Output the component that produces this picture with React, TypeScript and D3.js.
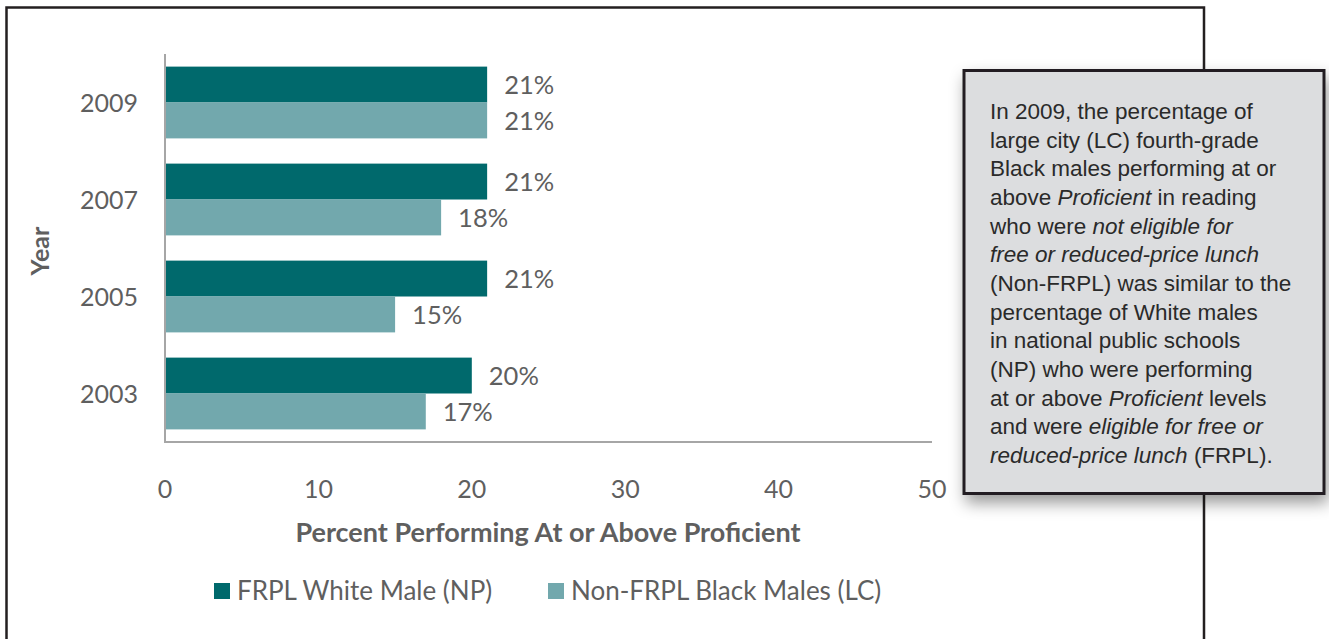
import * as d3 from 'd3';
import React, { useEffect, useRef } from 'react';

// Data

const years = ['2009', '2007', '2005', '2003'];
const seriesNames = ['FRPL White Male (NP)', 'Non-FRPL Black Males (LC)'];
const frplWhiteMale = [21, 21, 21, 20];
const nonFrplBlackMales = [21, 18, 15, 17];
const xTicks = [0, 10, 20, 30, 40, 50];
const colors = ['#00696c', '#72a8ad'];

// note box text, [text, italic]
const noteLines: [string, boolean][][] = [
	[['In 2009, the percentage of', false]],
	[['large city (LC) fourth-grade', false]],
	[['Black males performing at or', false]],
	[['above ', false], ['Proficient', true], [' in reading', false]],
	[['who were ', false], ['not eligible for', true]],
	[['free or reduced-price lunch', true]],
	[['(Non-FRPL) was similar to the', false]],
	[['percentage of White males', false]],
	[['in national public schools', false]],
	[['(NP) who were performing', false]],
	[['at or above ', false], ['Proficient', true], [' levels', false]],
	[['and were ', false], ['eligible for free or', true]],
	[['reduced-price lunch', true], [' (FRPL).', false]],
];

function App() {
	const chart = useRef<SVGSVGElement>(null);

	const drawChart = () => {
		const svg = d3.select(chart.current);
		svg.selectAll('*').remove();

		const textColor = '#5f5f5f';
		const font = 'Lato, sans-serif';

		// outer frame

		svg
			.append('path')
			.attr('d', 'M6.5,640 L6.5,7.5 L1204,7.5 L1204,640')
			.attr('fill', 'none')
			.attr('stroke', '#231f20')
			.attr('stroke-width', 2.5);

		// Scales

		const xscale = d3.scaleLinear().domain([0, 50]).range([165, 932]);

		const yscale = d3
			.scaleBand()
			.domain(years)
			.range([54, 442])
			.paddingInner(0.26)
			.paddingOuter(0.13);

		const inner = d3
			.scaleBand()
			.domain(seriesNames)
			.range([0, yscale.bandwidth()]);

		const rows = years.map((year, i) => ({
			year,
			values: [frplWhiteMale[i], nonFrplBlackMales[i]],
		}));

		// Bars

		const groups = svg
			.append('g')
			.selectAll('g')
			.data(rows)
			.enter()
			.append('g')
			.attr('transform', (d) => `translate(0, ${yscale(d.year)})`);

		const cells = groups
			.selectAll('g')
			.data((d) => d.values.map((v, k) => ({ v, name: seriesNames[k], k })))
			.enter()
			.append('g');

		cells
			.append('rect')
			.attr('x', xscale(0))
			.attr('y', (d) => inner(d.name))
			.attr('width', (d) => xscale(d.v) - xscale(0))
			.attr('height', inner.bandwidth())
			.attr('fill', (d) => colors[d.k]);

		cells
			.append('text')
			.attr('x', (d) => xscale(d.v) + 17)
			.attr('y', (d) => inner(d.name) + inner.bandwidth() / 2)
			.attr('dy', '0.36em')
			.attr('font-family', font)
			.attr('font-size', 25.5)
			.attr('fill', textColor)
			.text((d) => `${d.v}%`);

		// Axis

		svg
			.append('line')
			.attr('x1', xscale(0))
			.attr('x2', xscale(0))
			.attr('y1', 54)
			.attr('y2', 443)
			.attr('stroke', '#a6a6a6')
			.attr('stroke-width', 2);

		svg
			.append('line')
			.attr('x1', xscale(0) - 1)
			.attr('x2', xscale(50))
			.attr('y1', 442)
			.attr('y2', 442)
			.attr('stroke', '#a6a6a6')
			.attr('stroke-width', 2);

		svg
			.append('g')
			.selectAll('text')
			.data(xTicks)
			.enter()
			.append('text')
			.attr('x', (d) => xscale(d))
			.attr('y', 489)
			.attr('dy', '0.36em')
			.attr('text-anchor', 'middle')
			.attr('font-family', font)
			.attr('font-size', 25)
			.attr('fill', textColor)
			.text((d) => d);

		svg
			.append('g')
			.selectAll('text')
			.data(years)
			.enter()
			.append('text')
			.attr('x', 138)
			.attr('y', (d) => yscale(d) + yscale.bandwidth() / 2)
			.attr('dy', '0.36em')
			.attr('text-anchor', 'end')
			.attr('font-family', font)
			.attr('font-size', 25)
			.attr('fill', textColor)
			.text((d) => d);

		// Axis titles

		svg
			.append('text')
			.attr('transform', 'translate(40, 251) rotate(-90)')
			.attr('dy', '0.36em')
			.attr('text-anchor', 'middle')
			.attr('font-family', font)
			.attr('font-weight', 'bold')
			.attr('font-size', 25)
			.attr('fill', textColor)
			.text('Year');

		svg
			.append('text')
			.attr('x', 548)
			.attr('y', 532)
			.attr('dy', '0.36em')
			.attr('text-anchor', 'middle')
			.attr('font-family', font)
			.attr('font-weight', 'bold')
			.attr('font-size', 27)
			.attr('fill', textColor)
			.text('Percent Performing At or Above Proficient');

		// Legend

		const legendX = [214, 548];
		const legend = svg
			.append('g')
			.selectAll('g')
			.data(seriesNames)
			.enter()
			.append('g')
			.attr('transform', (d, i) => `translate(${legendX[i]}, 591)`);

		legend
			.append('rect')
			.attr('x', 0)
			.attr('y', -8)
			.attr('width', 16)
			.attr('height', 16)
			.attr('fill', (d, i) => colors[i]);

		legend
			.append('text')
			.attr('x', 23)
			.attr('y', 0)
			.attr('dy', '0.36em')
			.attr('font-family', font)
			.attr('font-size', 26)
			.attr('fill', textColor)
			.text((d) => d);

		// Note box

		const defs = svg.append('defs');
		const filter = defs
			.append('filter')
			.attr('id', 'noteShadow')
			.attr('x', '-10%')
			.attr('y', '-10%')
			.attr('width', '125%')
			.attr('height', '125%');
		filter
			.append('feDropShadow')
			.attr('dx', 3)
			.attr('dy', 8)
			.attr('stdDeviation', 8)
			.attr('flood-color', '#000')
			.attr('flood-opacity', 0.4);

		svg
			.append('rect')
			.attr('x', 964)
			.attr('y', 70.5)
			.attr('width', 360)
			.attr('height', 423)
			.attr('fill', '#dcdddf')
			.attr('stroke', '#231f20')
			.attr('stroke-width', 3)
			.attr('filter', 'url(#noteShadow)');

		const note = svg
			.append('text')
			.attr('font-family', '"Liberation Sans", Arial, sans-serif')
			.attr('font-size', 22.5)
			.attr('fill', '#2a2a2a');

		noteLines.forEach((line, i) => {
			const row = note
				.append('tspan')
				.attr('x', 990)
				.attr('y', 119 + i * 28.67);
			line.forEach(([t, italic]) => {
				row
					.append('tspan')
					.attr('font-style', italic ? 'italic' : 'normal')
					.attr('xml:space', 'preserve')
					.text(t);
			});
		});
	};

	useEffect(() => {
		drawChart();
	}, []);

	return (
		<svg
			ref={chart}
			width={1329}
			height={639}
			style={{ position: 'absolute', left: 0, top: 0, background: '#fff' }}
		></svg>
	);
}

export default App;
